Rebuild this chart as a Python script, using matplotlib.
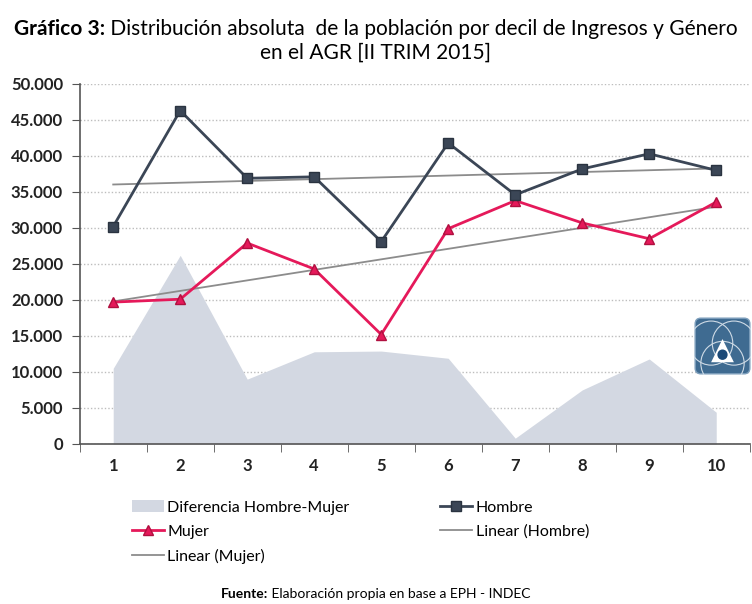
import numpy as np
import matplotlib.pyplot as plt
from matplotlib.patches import FancyBboxPatch, Circle, Polygon
from matplotlib.lines import Line2D
from matplotlib.patches import Patch

plt.rcParams['font.family'] = ['Lato', 'DejaVu Sans']

# === Data ===
deciles = [1, 2, 3, 4, 5, 6, 7, 8, 9, 10]
hombre = [30200, 46300, 36900, 37100, 28100, 41800, 34600, 38200, 40300, 38000]
mujer = [19700, 20100, 27900, 24300, 15200, 29900, 33800, 30700, 28500, 33600]
diferencia = [10500, 26200, 9000, 12800, 12900, 11900, 800, 7500, 11800, 4400]
y_ticks = [0, 5000, 10000, 15000, 20000, 25000, 30000, 35000, 40000, 45000, 50000]
y_labels = ["0", "5.000", "10.000", "15.000", "20.000", "25.000",
            "30.000", "35.000", "40.000", "45.000", "50.000"]

# === Colors ===
c_hombre = "#3b4656"
c_mujer = "#e5195a"
c_area = "#d3d8e2"
c_trend = "#8c8c8c"

fig = plt.figure(figsize=(7.52, 6.04), dpi=100)
ax = fig.add_axes([0.106, 0.265, 0.891, 0.596])

x = np.array(deciles)
ax.fill_between(x, 0, diferencia, color=c_area, lw=0, zorder=1)

# trend lines (least squares, like Excel "Linear")
ph = np.polyfit(x, hombre, 1)
pm = np.polyfit(x, mujer, 1)
ax.plot(x, np.polyval(ph, x), color=c_trend, lw=1.3, zorder=2)
ax.plot(x, np.polyval(pm, x), color=c_trend, lw=1.3, zorder=2)

ax.plot(x, hombre, color=c_hombre, lw=2, marker="s", ms=7,
        mfc=c_hombre, mec="#2a3340", zorder=4)
ax.plot(x, mujer, color=c_mujer, lw=2, marker="^", ms=7,
        mfc=c_mujer, mec="#b01040", zorder=3)

ax.set_xlim(0.5, 10.5)
ax.set_ylim(0, 50000)
ax.set_yticks(y_ticks)
ax.set_yticklabels(y_labels, fontsize=12, fontweight="bold", color="#222222")
ax.yaxis.grid(True, linestyle=(0, (1, 1.5)), color="#bdbdbd", lw=1)
ax.set_axisbelow(True)

ax.set_xticks(deciles)
ax.set_xticklabels([str(d) for d in deciles], fontsize=12, fontweight="bold", color="#222222")
ax.tick_params(axis="x", length=0, pad=10)
ax.set_xticks(np.arange(0.5, 11, 1), minor=True)
ax.tick_params(axis="x", which="minor", length=6, color="#555555", direction="out")
ax.tick_params(axis="y", length=6, color="#555555", pad=6)

for s in ["top", "right"]:
    ax.spines[s].set_visible(False)
for s in ["left", "bottom"]:
    ax.spines[s].set_color("#555555")
    ax.spines[s].set_linewidth(1.2)

# === Logo (approximation) ===
lax = fig.add_axes([694 / 752, 1 - 375 / 604, 57 / 752, 58 / 604])
lax.set_xlim(0, 1)
lax.set_ylim(0, 1)
lax.axis("off")
lax.add_patch(FancyBboxPatch((0.02, 0.02), 0.96, 0.96, boxstyle="round,pad=0,rounding_size=0.1",
                             fc="#3f6b91", ec="#7fa0bd", lw=1))
for cx, cy in [(0.3, 0.55), (0.7, 0.55), (0.5, 0.2)]:
    lax.add_patch(Circle((cx, cy), 0.38, fill=False, ec="#cfdbe6", lw=0.8))
lax.add_patch(Polygon([(0.5, 0.62), (0.3, 0.22), (0.7, 0.22)], closed=True, fc="white", ec="none"))
lax.add_patch(Circle((0.5, 0.35), 0.09, fc="#1c4a78", ec="none"))

# === Legend ===
handles = [
    Patch(fc=c_area, ec="none"),
    Line2D([], [], color=c_mujer, lw=2, marker="^", ms=7, mfc=c_mujer, mec="#b01040"),
    Line2D([], [], color=c_trend, lw=1.3),
    Line2D([], [], color=c_hombre, lw=2, marker="s", ms=7, mfc=c_hombre, mec="#2a3340"),
    Line2D([], [], color=c_trend, lw=1.3),
]
labels = ["Diferencia Hombre-Mujer", "Mujer", "Linear (Mujer)", "Hombre", "Linear (Hombre)"]
fig.legend(handles, labels, loc="upper left", bbox_to_anchor=(0.167, 0.182), ncol=2,
           frameon=False, fontsize=11.5, handlelength=2.0, handletextpad=0.2,
           columnspacing=5.7, labelspacing=0.62, borderaxespad=0)

# === Title and source (bold prefix + regular text) ===
def mixed_line(y, bold, regular, size):
    r = fig.canvas.get_renderer()
    tb = fig.text(0, y, bold, fontsize=size, fontweight="bold", va="center")
    tr = fig.text(0, y, regular, fontsize=size, va="center")
    wb = tb.get_window_extent(r).width / fig.bbox.width
    wr = tr.get_window_extent(r).width / fig.bbox.width
    x0 = 0.5 - (wb + wr) / 2
    tb.set_x(x0)
    tr.set_x(x0 + wb)

mixed_line(1 - 29 / 604, "Gráfico 3:", " Distribución absoluta  de la población por decil de Ingresos y Género", 15)
fig.text(0.5, 1 - 53 / 604, "en el AGR [II TRIM 2015]", fontsize=15, ha="center", va="center")
mixed_line(1 - 594 / 604, "Fuente:", " Elaboración propia en base a EPH - INDEC", 10)

fig.savefig("out.png", dpi=100)
